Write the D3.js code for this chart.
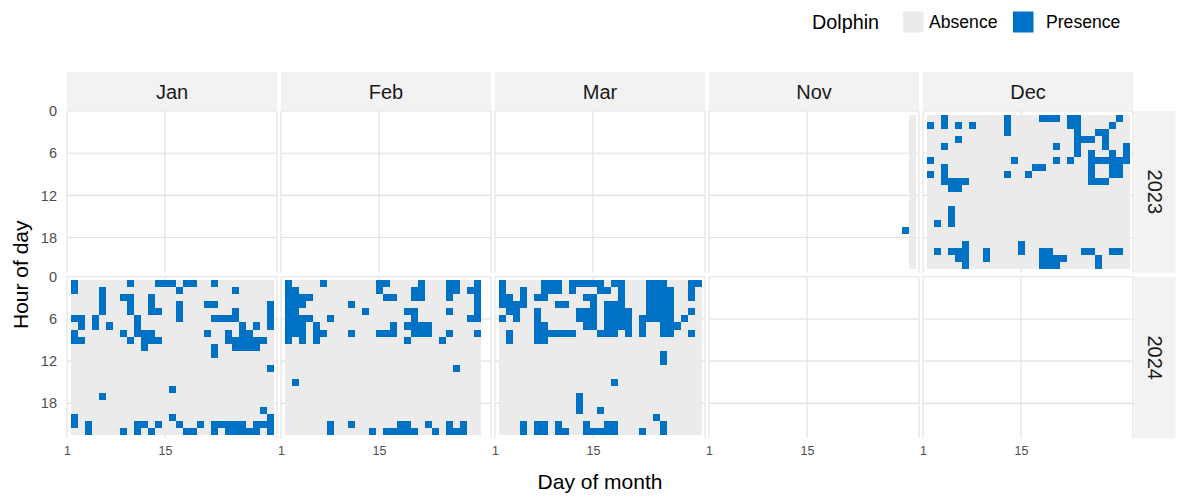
<!DOCTYPE html>
<html><head><meta charset="utf-8">
<script src="https://cdn.jsdelivr.net/npm/d3@7"></script>
<style>
body{margin:0;background:#fff;}
svg text{font-family:"Liberation Sans",Arial,Helvetica,sans-serif;}
</style>
</head><body>
<svg id="chart" width="1183" height="501"></svg>
<script>
// ---------------- data ----------------
const years = [2023, 2024];
const months = ["Jan", "Feb", "Mar", "Nov", "Dec"];
const states = ["Absence", "Presence"];
const stateColors = ["#ebebeb", "#0072c6"];
const xTickDays = [1, 15];
const xGridDays = [1, 15, 31];
const yTickHours = [0, 6, 12, 18];
const dayLimits = [1, 31];
const hourLimits = [0, 23];
const hoursOfDay = d3.range(0, 24);

// days with hourly recordings (first/last day of month recorded)
const coverage = [
  {year: 2023, month: "Nov", first: 30, last: 30},
  {year: 2023, month: "Dec", first: 1, last: 31},
  {year: 2024, month: "Jan", first: 1, last: 31},
  {year: 2024, month: "Feb", first: 1, last: 29},
  {year: 2024, month: "Mar", first: 1, last: 31}
];

// presence: [day, [hours with dolphin presence]]
const presNov2023 = [[29, [17]]];
const presDec2023 = [
  [2, [2, 7, 9]], [3, [16, 20]], [4, [1, 2, 5, 8, 9, 10]], [5, [10, 11, 14, 15, 16, 20]],
  [6, [2, 4, 10, 11, 20, 21]], [7, [10, 19, 20, 21, 22]], [8, [2]], [10, [20, 21]],
  [13, [1, 2, 3, 9]], [14, [7]], [15, [19, 20]], [16, [9]], [17, [8]],
  [18, [1, 8, 20, 21, 22]], [19, [1, 20, 21, 22]], [20, [1, 5, 7, 21, 22]], [21, [21]],
  [22, [1, 2, 7]], [23, [1, 2, 3, 4, 5, 6]], [24, [4, 20]], [25, [4, 6, 7, 8, 9, 10, 20]],
  [26, [3, 7, 10, 21, 22]], [27, [3, 4, 5, 7, 10]], [28, [2, 6, 7, 8, 9, 20]],
  [29, [1, 7, 8, 9, 20]], [30, [5, 6, 7]]
];
const presJan2024 = [
  [2, [1, 2, 6, 8, 9, 20, 21]], [3, [6, 7, 9]], [4, [21, 22]], [5, [6, 7]],
  [6, [2, 3, 4, 5, 17]], [7, [7]], [9, [3, 8, 22]], [10, [1, 3, 4, 5, 9]],
  [11, [6, 7, 8, 21, 22]], [12, [8, 9, 10, 21]], [13, [3, 4, 5, 8, 9, 22]],
  [14, [1, 5, 9, 21]], [15, [1]], [16, [1, 16, 20]], [17, [2, 4, 5, 6, 21]],
  [18, [1, 22]], [19, [1, 22]], [20, [21]], [21, [4, 8]],
  [22, [1, 4, 6, 10, 11, 21, 22]], [23, [6, 21]], [24, [6, 8, 9, 21, 22]],
  [25, [2, 5, 6, 9, 10, 21, 22]], [26, [7, 8, 9, 10, 21, 22]], [27, [8, 9, 10, 22]],
  [28, [7, 9, 10, 21, 22]], [29, [9, 19, 21]], [30, [4, 5, 6, 7, 13, 20, 21, 22]]
];
const presFeb2024 = [
  [2, [1, 2, 3, 4, 5, 6, 7, 8, 9]], [3, [2, 3, 4, 5, 6, 7, 8, 15]], [4, [3, 4, 6, 7, 8, 9]],
  [5, [3, 6]], [6, [7, 8, 9]], [7, [1, 8]], [8, [6, 21, 22]], [11, [4, 8, 21]],
  [13, [5]], [14, [22]], [15, [1, 2, 8]], [16, [1, 3, 8, 22]], [17, [3, 7, 8, 22]],
  [18, [21, 22]], [19, [5, 7, 9, 21, 22]], [20, [2, 3, 5, 6, 7, 8, 22]],
  [21, [1, 2, 3, 7, 8]], [22, [7, 8, 21]], [23, [22]], [24, [9]],
  [25, [1, 2, 3, 5, 8, 21, 22]], [26, [1, 2, 13, 22]], [27, [21, 22]], [28, [2, 6]],
  [29, [1, 2, 3, 4, 5, 6, 8]]
];
const presMar2024 = [
  [2, [1, 2, 3, 4, 6]], [3, [3, 4, 5, 8, 9]], [4, [4, 5, 6]], [5, [2, 3, 4, 21, 22]],
  [7, [3, 5, 6, 7, 8, 9, 21, 22]], [8, [1, 2, 3, 7, 8, 9, 21, 22]], [9, [1, 2, 8]],
  [10, [1, 2, 4, 8, 21, 22]], [11, [4, 8, 22]], [12, [1, 2, 8]], [13, [1, 5, 6, 17, 18, 19]],
  [14, [1, 3, 5, 6, 7, 21, 22]], [15, [1, 3, 4, 5, 6, 7, 22]], [16, [1, 2, 8, 19, 22]],
  [17, [2, 4, 5, 6, 7, 8, 21, 22]], [18, [1, 4, 5, 6, 7, 8, 15, 21, 22]],
  [19, [1, 2, 3, 4, 5, 6, 7]], [20, [5, 6, 7, 8]], [22, [6, 7, 8, 22]],
  [23, [1, 2, 3, 4, 5, 6]], [24, [1, 2, 3, 4, 5, 6, 20]],
  [25, [1, 2, 3, 4, 5, 6, 7, 8, 11, 12, 21, 22]], [26, [2, 3, 4, 5, 6, 7, 8]],
  [27, [7]], [28, [6]], [29, [1, 2, 3, 5, 8]], [30, [1]]
];
const presence = [
  {year: 2023, month: "Nov", days: presNov2023},
  {year: 2023, month: "Dec", days: presDec2023},
  {year: 2024, month: "Jan", days: presJan2024},
  {year: 2024, month: "Feb", days: presFeb2024},
  {year: 2024, month: "Mar", days: presMar2024}
];

// ------------- build tile table -------------
const tiles = [];
const presKey = new Set();
presence.forEach(p => p.days.forEach(([d, hs]) => hs.forEach(h => {
  presKey.add(`${p.year}-${p.month}-${d}-${h}`);
  tiles.push({year: p.year, month: p.month, day: d, hour: h, state: "Presence"});
})));
coverage.forEach(c => {
  for (let d = c.first; d <= c.last; d++) {
    hoursOfDay.forEach(h => {
      if (!presKey.has(`${c.year}-${c.month}-${d}-${h}`))
        tiles.push({year: c.year, month: c.month, day: d, hour: h, state: "Absence"});
    });
  }
});
// censor tiles whose extent falls outside the scale limits (as ggplot does)
const shown = tiles.filter(t => t.day - 0.5 >= dayLimits[0] && t.day + 0.5 <= dayLimits[1]
  && t.hour - 0.5 >= hourLimits[0] && t.hour + 0.5 <= hourLimits[1]);
shown.sort((a, b) => (a.state === "Presence") - (b.state === "Presence"));

// ------------- layout -------------
const svg = d3.select("#chart");
const colScale = d3.scaleBand().domain(months).range([67, 1133]).paddingInner(4 / 214);
const rowScale = d3.scaleBand().domain(years).range([111, 438.5]).paddingInner(4.1 / 165.8);
const pw = colScale.bandwidth(), ph = rowScale.bandwidth();
const x = d3.scaleLinear().domain(dayLimits).range([0, pw]);
const y = d3.scaleLinear().domain(hourLimits).range([0, ph]);
const color = d3.scaleOrdinal().domain(states).range(stateColors);

// panels
years.forEach(yr => months.forEach(mo => {
  const g = svg.append("g").attr("transform", `translate(${colScale(mo)},${rowScale(yr)})`);
  g.selectAll("line.v").data(xGridDays).join("line")
    .attr("x1", d => x(d)).attr("x2", d => x(d)).attr("y1", 0).attr("y2", ph)
    .attr("stroke", "#e0e0e0").attr("stroke-width", 1.1);
  g.selectAll("line.h").data(yTickHours).join("line")
    .attr("y1", d => y(d)).attr("y2", d => y(d)).attr("x1", 0).attr("x2", pw)
    .attr("stroke", "#e0e0e0").attr("stroke-width", 1.1);
  g.selectAll("rect.tile").data(shown.filter(t => t.year === yr && t.month === mo)).join("rect")
    .attr("x", t => x(t.day - 0.5)).attr("y", t => y(t.hour - 0.5))
    .attr("width", t => x(t.day + 0.5) - x(t.day - 0.5))
    .attr("height", t => y(t.hour + 0.5) - y(t.hour - 0.5))
    .attr("fill", t => color(t.state))
    .attr("shape-rendering", "crispEdges");
}));

// top strips
months.forEach(mo => {
  svg.append("rect").attr("x", colScale(mo)).attr("y", 72).attr("width", pw).attr("height", 39)
    .attr("fill", "#f2f2f2");
  svg.append("text").attr("x", colScale(mo) + pw / 2).attr("y", 92)
    .attr("text-anchor", "middle").attr("dominant-baseline", "central")
    .attr("font-size", 20).attr("fill", "#1a1a1a").text(mo);
});
// right strips
years.forEach(yr => {
  svg.append("rect").attr("x", 1134.5).attr("y", rowScale(yr)).attr("width", 41).attr("height", ph)
    .attr("fill", "#f2f2f2");
  svg.append("text").attr("transform", `translate(1155,${rowScale(yr) + ph / 2}) rotate(90)`)
    .attr("text-anchor", "middle").attr("dominant-baseline", "central")
    .attr("font-size", 20).attr("fill", "#1a1a1a").text(yr);
});

// axes
months.forEach(mo => {
  const ax = svg.append("g").attr("transform", `translate(${colScale(mo)},${rowScale(years[1]) + ph})`)
    .call(d3.axisBottom(x).tickValues(xTickDays).tickSize(0).tickPadding(8));
  ax.select(".domain").remove();
  ax.selectAll("text").attr("font-size", 12.5).attr("fill", "#4d4d4d")
    .style("font-family", '"Liberation Sans",Arial,sans-serif');
});
years.forEach(yr => {
  const ay = svg.append("g").attr("transform", `translate(${colScale(months[0])},${rowScale(yr)})`)
    .call(d3.axisLeft(y).tickValues(yTickHours).tickSize(0).tickPadding(10));
  ay.select(".domain").remove();
  ay.selectAll("text").attr("font-size", 14.5).attr("fill", "#4d4d4d")
    .style("font-family", '"Liberation Sans",Arial,sans-serif');
});

// axis titles
svg.append("text").attr("x", 600).attr("y", 481).attr("text-anchor", "middle")
  .attr("dominant-baseline", "central").attr("font-size", 21).attr("fill", "#000").text("Day of month");
svg.append("text").attr("transform", `translate(20,${(111 + 438.5) / 2}) rotate(-90)`)
  .attr("text-anchor", "middle").attr("dominant-baseline", "central")
  .attr("font-size", 21).attr("fill", "#000").text("Hour of day");

// legend
const leg = svg.append("g");
leg.append("text").attr("x", 812).attr("y", 22).attr("dominant-baseline", "central")
  .attr("font-size", 19.8).attr("fill", "#000").text("Dolphin");
const keyX = [903, 1013], labX = [929, 1046];
states.forEach((s, i) => {
  leg.append("rect").attr("x", keyX[i]).attr("y", 11.5).attr("width", 20.5).attr("height", 21)
    .attr("fill", color(s));
  leg.append("text").attr("x", labX[i]).attr("y", 22).attr("dominant-baseline", "central")
    .attr("font-size", 17.6).attr("fill", "#000").text(s);
});
</script>
</body></html>
